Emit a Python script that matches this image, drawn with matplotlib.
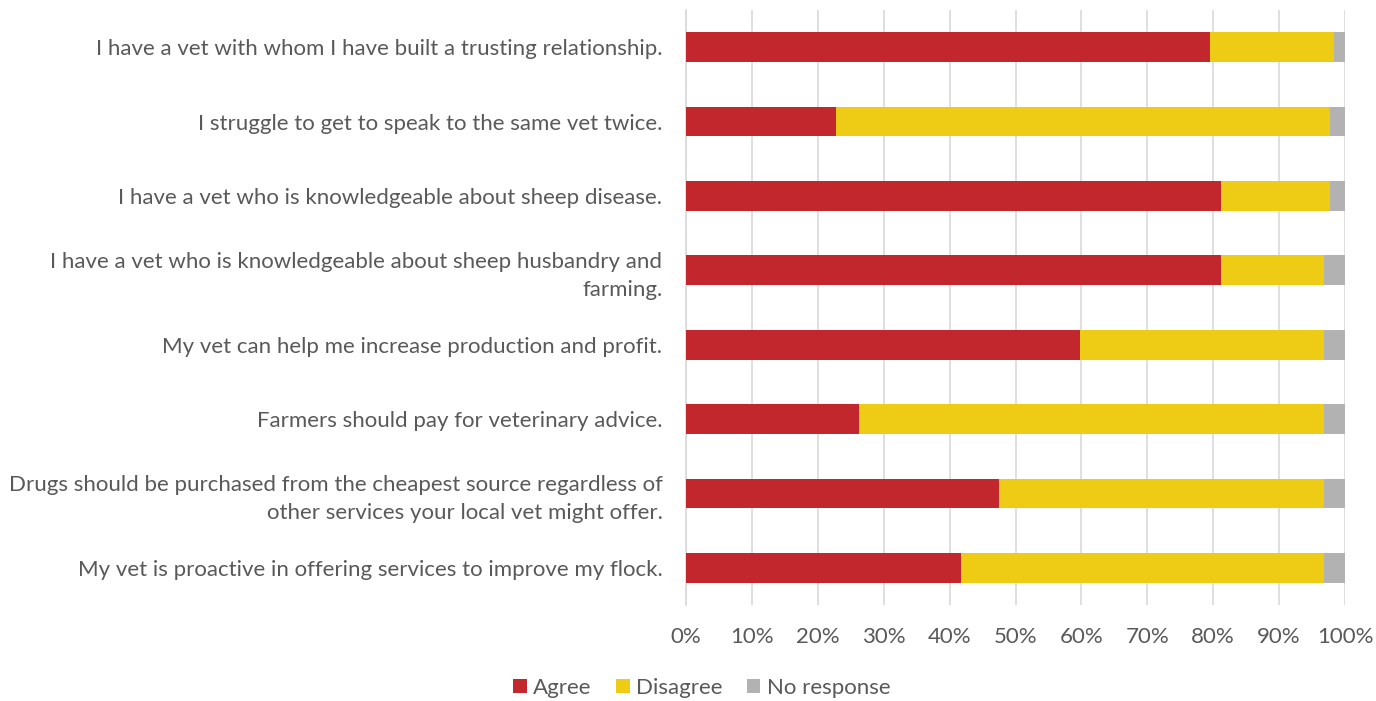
import numpy as np
import matplotlib.pyplot as plt
from matplotlib.ticker import PercentFormatter

plt.rcParams['font.family'] = ['Lato', 'DejaVu Sans']

statements = [
    "I have a vet with whom I have built a trusting relationship.",
    "I struggle to get to speak to the same vet twice.",
    "I have a vet who is knowledgeable about sheep disease.",
    "I have a vet who is knowledgeable about sheep husbandry and\nfarming.",
    "My vet can help me increase production and profit.",
    "Farmers should pay for veterinary advice.",
    "Drugs should be purchased from the cheapest source regardless of\nother services your local vet might offer.",
    "My vet is proactive in offering services to improve my flock.",
]
agree = [79.5, 22.8, 81.2, 81.2, 59.8, 26.2, 47.5, 41.7]
disagree = [18.9, 74.9, 16.5, 15.6, 37.0, 70.6, 49.3, 55.1]
no_response = [1.6, 2.3, 2.3, 3.2, 3.2, 3.2, 3.2, 3.2]

c_agree = '#c1272d'
c_dis = '#eecc16'
c_none = '#b2b2b2'
txt = '#595959'

fig = plt.figure(figsize=(13.76, 7.01), dpi=100)
ax = fig.add_axes([686 / 1376, 1 - 605 / 701, 659 / 1376, 595 / 701])

y = np.arange(len(statements))
h = 0.40
ax.barh(y, agree, height=h, color=c_agree, label='Agree', zorder=3)
ax.barh(y, disagree, left=agree, height=h, color=c_dis, label='Disagree', zorder=3)
left2 = np.array(agree) + np.array(disagree)
ax.barh(y, no_response, left=left2, height=h, color=c_none, label='No response', zorder=3)

ax.set_xlim(0, 100)
ax.set_ylim(len(statements) - 0.5, -0.5)
ax.set_xticks(np.arange(0, 101, 10))
ax.xaxis.set_major_formatter(PercentFormatter(decimals=0))
ax.set_yticks(y)
ax.set_yticklabels(statements, ha='right', linespacing=1.47)
ax.tick_params(axis='both', length=0, labelsize=16, colors=txt)
ax.tick_params(axis='y', pad=17)
ax.tick_params(axis='x', pad=16)
ax.grid(axis='x', color='#d9d9d9', linewidth=1.2, zorder=0)
for s in ['top', 'right', 'bottom']:
    ax.spines[s].set_visible(False)
ax.spines['left'].set_color('#d9d9d9')
ax.spines['left'].set_linewidth(1.2)

leg = fig.legend(loc='center', bbox_to_anchor=(702 / 1376, 1 - 688 / 701), ncol=3,
                 frameon=False, fontsize=16, handlelength=0.6, handleheight=0.6,
                 handletextpad=0.3, columnspacing=1.1)
for t in leg.get_texts():
    t.set_color(txt)

fig.savefig('out.png', dpi=100)
